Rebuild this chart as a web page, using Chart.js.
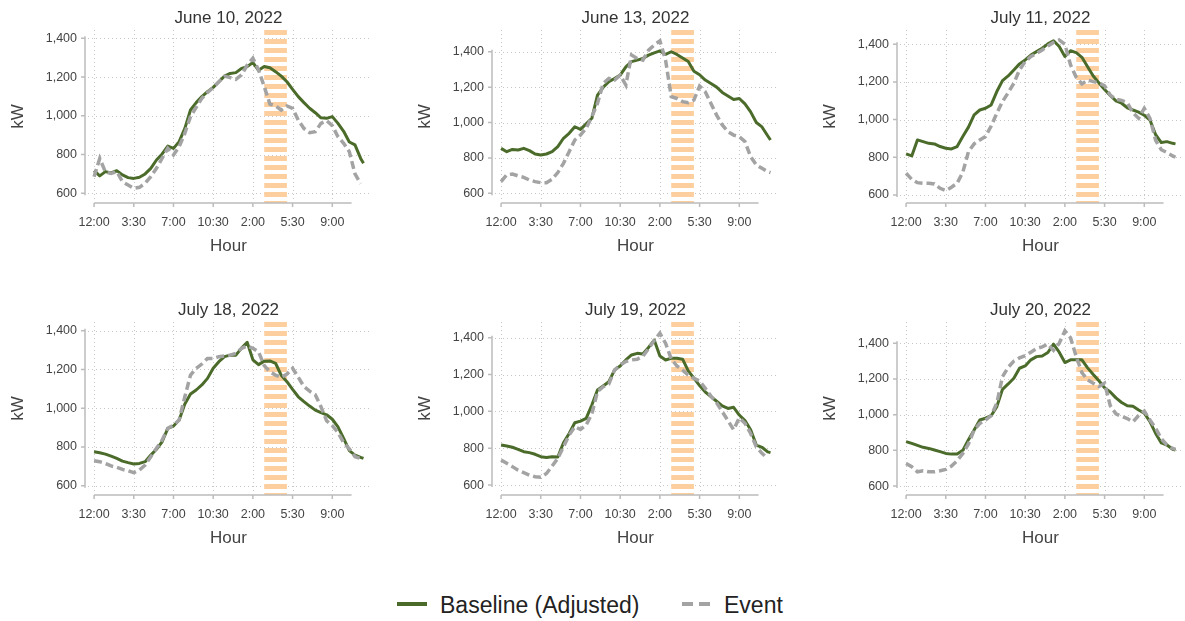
<!DOCTYPE html>
<html>
<head>
<meta charset="utf-8">
<title>Baseline vs event load</title>
<script src="https://cdn.jsdelivr.net/npm/chart.js@4/dist/chart.umd.min.js"></script>
<style>
  body { margin: 0; background: #fff; width: 1185px; height: 621px; overflow: hidden; position: relative;
         font-family: "Liberation Sans", Arial, Helvetica, sans-serif; }
  canvas { position: absolute; }
  .sw { position: absolute; height: 4px; }
  .lab { position: absolute; font-size: 23px; color: #222; line-height: 26px; top: 592px; }
</style>
</head>
<body>
<canvas id="p0" width="374" height="260" style="left:0;top:0"></canvas>
<canvas id="p1" width="374" height="260" style="left:407px;top:0"></canvas>
<canvas id="p2" width="374" height="260" style="left:812px;top:0"></canvas>
<canvas id="p3" width="374" height="260" style="left:0;top:292px"></canvas>
<canvas id="p4" width="374" height="260" style="left:407px;top:292px"></canvas>
<canvas id="p5" width="374" height="260" style="left:812px;top:292px"></canvas>

<!-- legend -->
<div class="sw" style="left:397px;top:602px;width:30px;background:#4b6b2a"></div>
<div class="lab" style="left:440px">Baseline (Adjusted)</div>
<div class="sw" style="left:682px;top:602px;width:11px;background:#a3a3a3"></div>
<div class="sw" style="left:699px;top:602px;width:11px;background:#a3a3a3"></div>
<div class="lab" style="left:724px">Event</div>

<script>
// hour of day (0 = midnight), half-hour steps
const hours = [0,0.5,1,1.5,2,2.5,3,3.5,4,4.5,5,5.5,6,6.5,7,7.5,8,8.5,9,9.5,10,10.5,11,11.5,
               12,12.5,13,13.5,14,14.5,15,15.5,16,16.5,17,17.5,18,18.5,19,19.5,20,20.5,21,21.5,
               22,22.5,23,23.5,23.75];
const tickHours = [0, 3.5, 7, 10.5, 14, 17.5, 21];
const tickLabels = ["12:00", "3:30", "7:00", "10:30", "2:00", "5:30", "9:00"];
const kwTicks = [600, 800, 1000, 1200, 1400];
const eventWindow = [15, 17];

const panelTitles = ["June 10, 2022", "June 13, 2022", "July 11, 2022",
                     "July 18, 2022", "July 19, 2022", "July 20, 2022"];
const yMin = [550, 545, 557, 552, 546, 550];
const yMax = [1443, 1523, 1476, 1445, 1485, 1519];

// kW, Baseline (Adjusted)
const baseJun10 = [717,690,712,705,717,695,681,677,683,700,729,772,803,844,832,867,935,1030,1068,1099,1125,1147,1176,1205,
                   1219,1223,1245,1254,1275,1235,1255,1248,1228,1205,1176,1137,1099,1068,1039,1016,990,987,996,961,920,865,850,780,755];
const baseJun13 = [854,835,848,845,854,841,822,816,822,835,864,911,939,976,961,992,1024,1155,1199,1231,1249,1268,1315,1344,
                   1353,1362,1381,1394,1405,1385,1400,1385,1365,1345,1290,1270,1240,1220,1200,1170,1150,1130,1136,1105,1060,1000,975,925,901];
const baseJul11 = [818,807,892,883,874,871,857,848,844,857,910,960,1025,1051,1060,1078,1149,1207,1232,1264,1296,1317,1343,1361,
                   1379,1402,1419,1388,1335,1366,1356,1331,1281,1232,1195,1160,1128,1100,1087,1063,1051,1040,1023,998,920,878,883,874,871];
const baseJul18 = [775,770,763,753,741,727,719,712,715,724,758,788,827,896,908,939,1022,1073,1094,1120,1154,1206,1240,1266,
                   1274,1274,1310,1340,1250,1225,1243,1244,1232,1170,1137,1097,1059,1034,1011,990,977,966,943,904,844,781,758,746,741];
const baseJul19 = [817,812,805,794,781,776,767,754,750,754,752,830,880,938,947,962,1034,1116,1138,1161,1224,1246,1279,1306,
                   1315,1311,1347,1387,1300,1279,1288,1288,1283,1220,1180,1140,1105,1080,1055,1030,1016,1022,980,950,900,817,805,780,776];
const baseJul20 = [849,839,828,817,811,802,793,783,779,779,800,860,914,970,980,994,1045,1142,1172,1204,1260,1273,1307,1325,
                   1329,1348,1395,1350,1292,1307,1307,1307,1262,1225,1190,1150,1127,1094,1068,1050,1047,1026,1008,961,895,842,830,806,802];

// kW, Event
const eventJun10 = [686,780,710,703,712,660,643,626,631,652,686,729,781,832,798,841,910,996,1044,1090,1120,1147,1176,1205,
                    1197,1188,1211,1262,1297,1237,1151,1061,1051,1030,1051,1039,978,935,913,918,961,975,949,892,858,815,700,650,null];
const eventJun13 = [666,704,709,698,690,675,666,660,660,679,717,769,835,901,929,967,1033,1108,1221,1249,1240,1268,1212,1381,
                    1362,1353,1409,1438,1462,1353,1146,1136,1118,1112,1127,1206,1174,1108,1042,986,948,929,920,892,807,760,741,722,717];
const eventJul11 = [715,683,665,662,662,658,635,623,641,662,720,830,871,892,910,966,1034,1096,1143,1193,1264,1308,1335,1352,
                    1370,1391,1410,1423,1400,1290,1225,1190,1210,1202,1195,1180,1130,1108,1102,1090,1036,1007,1060,1007,890,840,825,807,800];
const eventJul18 = [729,724,715,702,695,684,677,667,681,707,750,793,836,896,913,939,1059,1171,1206,1228,1257,1257,1266,1270,
                    1274,1283,1309,1321,1309,1291,1220,1188,1171,1159,1176,1206,1160,1112,1088,1070,1008,935,910,875,822,790,750,741,null];
const eventJul19 = [736,718,700,681,667,654,645,642,663,703,745,808,871,917,902,926,986,1107,1134,1149,1224,1252,1270,1279,
                    1283,1300,1340,1385,1424,1370,1285,1246,1224,1197,1179,1166,1125,1083,1047,998,950,900,965,935,880,808,772,745,null];
const eventJul20 = [727,708,680,686,680,680,686,693,712,742,783,836,914,951,970,995,1065,1213,1265,1300,1318,1330,1350,1370,
                    1380,1395,1360,1400,1470,1430,1325,1235,1195,1176,1158,1176,1050,1005,990,978,960,995,1020,970,925,865,830,811,805];

const baselines = [baseJun10, baseJun13, baseJul11, baseJul18, baseJul19, baseJul20];
const events = [eventJun10, eventJun13, eventJul11, eventJul18, eventJul19, eventJul20];

Chart.defaults.font.family = '"Liberation Sans", Arial, Helvetica, sans-serif';
Chart.defaults.color = '#444';

// stata-like frame: dotted grid, event stripes, short axis lines with tick marks
const frame = {
  id: 'frame',
  beforeDatasetsDraw(chart) {
    const { ctx, chartArea: a, scales: { x, y } } = chart;
    ctx.save();

    ctx.strokeStyle = '#c6c6c6';
    ctx.lineWidth = 1;
    ctx.setLineDash([1, 3]);
    ctx.beginPath();
    kwTicks.forEach(v => {
      const py = Math.round(y.getPixelForValue(v)) + 0.5;
      ctx.moveTo(a.left + 3, py);
      ctx.lineTo(a.right, py);
    });
    tickHours.forEach(h => {
      const px = Math.round(x.getPixelForValue(h)) + 0.5;
      ctx.moveTo(px, a.top);
      ctx.lineTo(px, a.bottom - 3);
    });
    ctx.stroke();
    ctx.setLineDash([]);

    // event hours
    const x0 = x.getPixelForValue(eventWindow[0]);
    const x1 = x.getPixelForValue(eventWindow[1]);
    ctx.fillStyle = '#fdcf9f';
    for (let py = a.top; py < a.bottom; py += 9) {
      ctx.fillRect(x0, py, x1 - x0, Math.min(5, a.bottom - py));
    }

    ctx.strokeStyle = '#bcbcbc';
    ctx.lineWidth = 1.5;
    ctx.beginPath();
    ctx.moveTo(a.left, y.getPixelForValue(kwTicks[kwTicks.length - 1]) - 2);
    ctx.lineTo(a.left, y.getPixelForValue(kwTicks[0]) + 2);
    kwTicks.forEach(v => {
      const py = y.getPixelForValue(v);
      ctx.moveTo(a.left - 4, py);
      ctx.lineTo(a.left, py);
    });
    ctx.moveTo(x.getPixelForValue(0), a.bottom);
    ctx.lineTo(x.getPixelForValue(22.7), a.bottom);
    tickHours.forEach(h => {
      const px = x.getPixelForValue(h);
      ctx.moveTo(px, a.bottom);
      ctx.lineTo(px, a.bottom + 4);
    });
    ctx.stroke();
    ctx.restore();
  }
};

panelTitles.forEach((title, i) => {
  new Chart(document.getElementById('p' + i), {
    type: 'line',
    data: {
      datasets: [
        {
          label: 'Event',
          data: hours.map((h, k) => ({ x: h, y: events[i][k] })),
          borderColor: '#a3a3a3',
          borderWidth: 3.5,
          borderDash: [8, 4],
          pointRadius: 0,
          tension: 0
        },
        {
          label: 'Baseline (Adjusted)',
          data: hours.map((h, k) => ({ x: h, y: baselines[i][k] })),
          borderColor: '#4b6b2a',
          borderWidth: 3,
          borderJoinStyle: 'round',
          pointRadius: 0,
          tension: 0
        }
      ]
    },
    options: {
      responsive: false,
      animation: false,
      layout: { padding: { left: 0, right: 2, top: 0, bottom: 0 } },
      plugins: {
        legend: { display: false },
        tooltip: { enabled: false },
        title: {
          display: true, text: title, fullSize: false, color: '#333',
          font: { size: 17, weight: 'normal' },
          padding: { top: 8, bottom: 1.6 }
        }
      },
      scales: {
        x: {
          type: 'linear', min: -0.8, max: 24.5,
          grid: { display: false, drawTicks: false },
          border: { display: false },
          afterBuildTicks: s => { s.ticks = tickHours.map(v => ({ value: v })); },
          afterFit: s => { s.height = 57; },
          ticks: { autoSkip: false, maxRotation: 0, padding: 12, color: '#444',
                   font: { size: 12.5 }, callback: (v, k) => tickLabels[k] },
          title: { display: true, text: 'Hour', color: '#444', font: { size: 17 },
                   padding: { top: 0, bottom: 3 } }
        },
        y: {
          min: yMin[i], max: yMax[i],
          grid: { display: false, drawTicks: false },
          border: { display: false },
          afterBuildTicks: s => { s.ticks = kwTicks.map(v => ({ value: v })); },
          afterFit: s => { s.width = 85; },
          ticks: { padding: 8, color: '#444', font: { size: 12.5 },
                   callback: v => v.toLocaleString('en-US') },
          title: { display: true, text: 'kW', color: '#444', font: { size: 17 },
                   padding: { top: 8, bottom: 0 } }
        }
      }
    },
    plugins: [frame]
  });
});
</script>
</body>
</html>
